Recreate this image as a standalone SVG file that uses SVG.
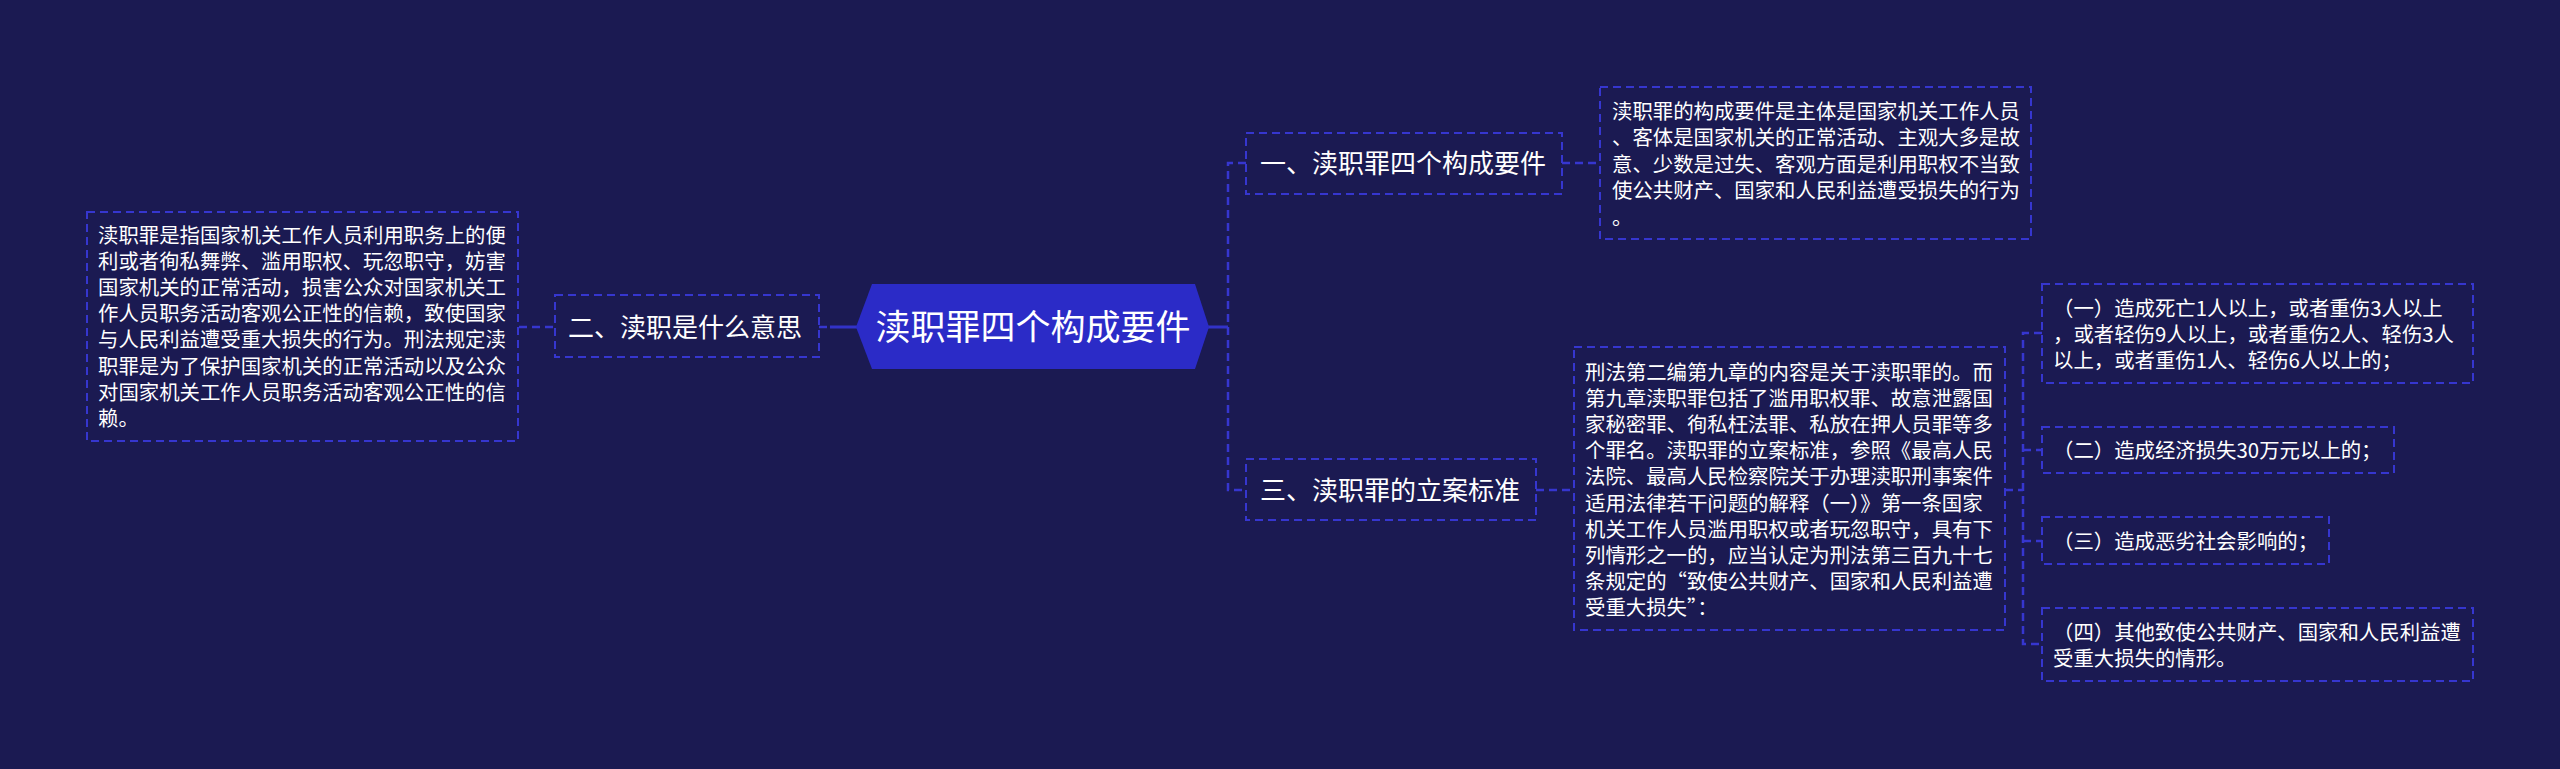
<svg xmlns="http://www.w3.org/2000/svg" width="2560" height="769" viewBox="0 0 2560 769">
<style>
.bg{fill:#1b1a52}
.box{fill:none;stroke:#3636cf;stroke-width:2;stroke-dasharray:8 5}
.ln{fill:none;stroke:#3636cf;stroke-width:2.5;stroke-dasharray:8 5}
.sl{fill:none;stroke:#3232c8;stroke-width:3}
.t{font-family:"Noto Sans CJK SC","Noto Sans",sans-serif;fill:#ffffff}
.b{font-size:20.4px}
.m{font-size:26px}
.c{font-size:35px}
</style>
<rect class="bg" x="0" y="0" width="2560" height="769"/>
<g id="connectors">
  <path class="ln" d="M519 327 H555"/>
  <path class="ln" d="M819 327 H827"/>
  <path class="sl" d="M830 327 H857"/>
  <path class="sl" d="M1208 327 H1228"/>
  <path class="ln" d="M1246 163 H1228 V490 H1246"/>
  <path class="ln" d="M1562 163 H1600"/>
  <path class="ln" d="M1536 490 H1574"/>
  <path class="ln" d="M2005 490 H2023"/>
  <path class="ln" d="M2042 333 H2023 V644 H2042"/>
  <path class="ln" d="M2023 450 H2042"/>
  <path class="ln" d="M2023 541 H2042"/>
</g>
<g id="root">
  <polygon points="856,327 872,284 1195,284 1209,327 1195,369 872,369" fill="#2b2bc7"/>
  <text class="t c" x="1033" y="340" text-anchor="middle">渎职罪四个构成要件</text>
</g>
<g id="n2">
  <rect class="box" x="555" y="295" width="264" height="62"/>
  <text class="t m" x="568" y="336.6">二、渎职是什么意思</text>
</g>
<g id="n2-detail">
  <rect class="box" x="87" y="212" width="431" height="229"/>
  <text class="t b" x="98">
    <tspan x="98" y="242.5">渎职罪是指国家机关工作人员利用职务上的便</tspan>
    <tspan x="98" y="268.7">利或者徇私舞弊、滥用职权、玩忽职守，妨害</tspan>
    <tspan x="98" y="294.9">国家机关的正常活动，损害公众对国家机关工</tspan>
    <tspan x="98" y="321.1">作人员职务活动客观公正性的信赖，致使国家</tspan>
    <tspan x="98" y="347.3">与人民利益遭受重大损失的行为。刑法规定渎</tspan>
    <tspan x="98" y="373.5">职罪是为了保护国家机关的正常活动以及公众</tspan>
    <tspan x="98" y="399.7">对国家机关工作人员职务活动客观公正性的信</tspan>
    <tspan x="98" y="425.9">赖。</tspan>
  </text>
</g>
<g id="n1">
  <rect class="box" x="1246" y="133" width="316" height="61"/>
  <text class="t m" x="1260" y="172.6">一、渎职罪四个构成要件</text>
</g>
<g id="n1-detail">
  <rect class="box" x="1600" y="87" width="431" height="152"/>
  <text class="t b">
    <tspan x="1612" y="118.5">渎职罪的构成要件是主体是国家机关工作人员</tspan>
    <tspan x="1612" y="145">、客体是国家机关的正常活动、主观大多是故</tspan>
    <tspan x="1612" y="171.5">意、少数是过失、客观方面是利用职权不当致</tspan>
    <tspan x="1612" y="198">使公共财产、国家和人民利益遭受损失的行为</tspan>
    <tspan x="1612" y="224.5">。</tspan>
  </text>
</g>
<g id="n3">
  <rect class="box" x="1246" y="459" width="290" height="61"/>
  <text class="t m" x="1260" y="499.6">三、渎职罪的立案标准</text>
</g>
<g id="n3-detail">
  <rect class="box" x="1574" y="347" width="431" height="283"/>
  <text class="t b">
    <tspan x="1585" y="379.5">刑法第二编第九章的内容是关于渎职罪的。而</tspan>
    <tspan x="1585" y="405.7">第九章渎职罪包括了滥用职权罪、故意泄露国</tspan>
    <tspan x="1585" y="431.9">家秘密罪、徇私枉法罪、私放在押人员罪等多</tspan>
    <tspan x="1585" y="458.1">个罪名。渎职罪的立案标准，参照《最高人民</tspan>
    <tspan x="1585" y="484.3">法院、最高人民检察院关于办理渎职刑事案件</tspan>
    <tspan x="1585" y="510.5">适用法律若干问题的解释（一）》第一条国家</tspan>
    <tspan x="1585" y="536.7">机关工作人员滥用职权或者玩忽职守，具有下</tspan>
    <tspan x="1585" y="562.9">列情形之一的，应当认定为刑法第三百九十七</tspan>
    <tspan x="1585" y="589.1">条规定的“致使公共财产、国家和人民利益遭</tspan>
    <tspan x="1585" y="615.3">受重大损失”：</tspan>
  </text>
</g>
<g id="c1">
  <rect class="box" x="2042" y="284" width="431" height="99"/>
  <text class="t b">
    <tspan x="2053" y="315.5">（一）造成死亡1人以上，或者重伤3人以上</tspan>
    <tspan x="2053" y="341.5">，或者轻伤9人以上，或者重伤2人、轻伤3人</tspan>
    <tspan x="2053" y="367.5">以上，或者重伤1人、轻伤6人以上的；</tspan>
  </text>
</g>
<g id="c2">
  <rect class="box" x="2042" y="427" width="352" height="46"/>
  <text class="t b" x="2053" y="457.5">（二）造成经济损失30万元以上的；</text>
</g>
<g id="c3">
  <rect class="box" x="2042" y="517" width="287" height="47"/>
  <text class="t b" x="2053" y="548.5">（三）造成恶劣社会影响的；</text>
</g>
<g id="c4">
  <rect class="box" x="2042" y="608" width="431" height="73"/>
  <text class="t b">
    <tspan x="2053" y="639.5">（四）其他致使公共财产、国家和人民利益遭</tspan>
    <tspan x="2053" y="665.5">受重大损失的情形。</tspan>
  </text>
</g>
</svg>
